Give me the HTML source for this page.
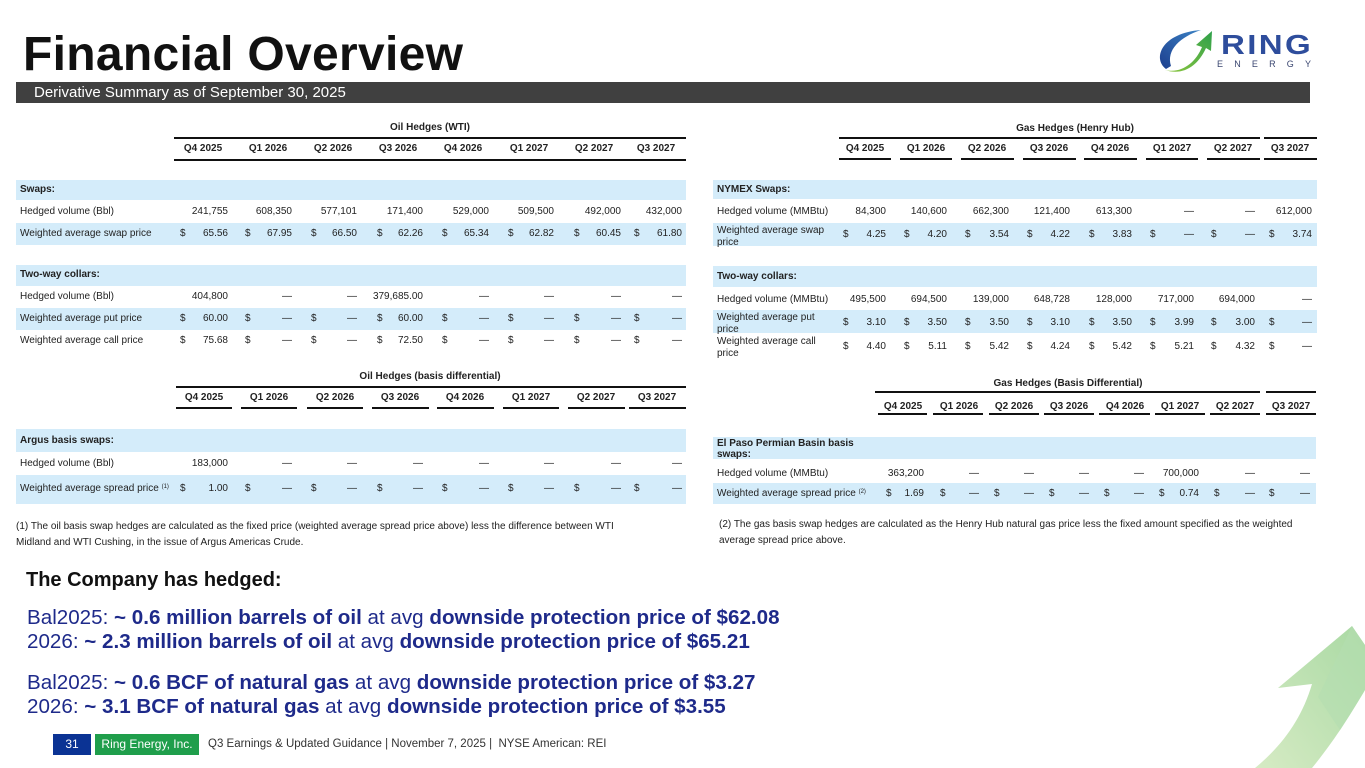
<!DOCTYPE html>
<html><head><meta charset="utf-8">
<style>
*{margin:0;padding:0;box-sizing:border-box}
html,body{width:1365px;height:768px;overflow:hidden;background:#fff}
body{position:relative;font-family:"Liberation Sans",Arial,sans-serif;color:#222}
.abs{position:absolute}
.band{position:absolute;background:#d4ecfa}
.ln{position:absolute;background:#111}
.r{position:absolute;left:0;width:1365px;height:12px;line-height:12px;font-size:10px;color:#222;white-space:nowrap}
.r>*{position:absolute;top:0;font-style:normal}
.lo{left:20px}.lg{left:717px}
.bo{font-weight:bold}
.ttl{position:absolute;font-size:10px;font-weight:bold;line-height:12px;text-align:center;width:300px;white-space:nowrap}
.h>*{width:60px;text-align:center;font-weight:bold}
.a0{left:180px}.a1{left:245px}.a2{left:311px}.a3{left:377px}.a4{left:442px}.a5{left:508px}.a6{left:574px}.a7{left:634px}
.b0{right:1137px}.b1{right:1073px}.b2{right:1008px}.b3{right:942px}.b4{right:876px}.b5{right:811px}.b6{right:744px}.b7{right:683px}
.c0{left:843px}.c1{left:904px}.c2{left:965px}.c3{left:1027px}.c4{left:1089px}.c5{left:1150px}.c6{left:1211px}.c7{left:1269px}
.e0{right:479px}.e1{right:418px}.e2{right:356px}.e3{right:295px}.e4{right:233px}.e5{right:171px}.e6{right:110px}.e7{right:53px}
.f0{left:886px}.f1{left:940px}.f2{left:994px}.f3{left:1049px}.f4{left:1104px}.f5{left:1159px}.f6{left:1214px}.f7{left:1269px}
.g0{right:441px}.g1{right:386px}.g2{right:331px}.g3{right:276px}.g4{right:221px}.g5{right:166px}.g6{right:110px}.g7{right:55px}
.lbl2{position:absolute;font-size:10px;line-height:12px;color:#222}
sup{font-size:6px;vertical-align:top;position:relative;top:-2px}
.fn{position:absolute;font-size:10px;line-height:16px;color:#222;white-space:nowrap}
.big{position:absolute;left:27px;font-size:20.6px;line-height:24px;color:#1e2a8a;white-space:nowrap}
.big b{font-weight:bold}
</style></head><body>

<!-- Title -->
<div class="abs" style="left:23px;top:31px;font-size:48px;line-height:48px;font-weight:bold;color:#111;white-space:nowrap;letter-spacing:0.3px">Financial Overview</div>
<div class="abs" style="left:16px;top:82px;width:1294px;height:21px;background:#404040;color:#fff;font-size:15px;line-height:21px;padding-left:18px;white-space:nowrap">Derivative Summary as of September 30, 2025</div>

<!-- Logo -->
<svg class="abs" style="left:1150px;top:24px" width="70" height="52" viewBox="1150 24 70 52">
<defs>
<linearGradient id="gb" x1="0" y1="1" x2="1" y2="0"><stop offset="0" stop-color="#1d3f8f"/><stop offset="1" stop-color="#3b82c4"/></linearGradient>
<linearGradient id="gg" x1="0" y1="1" x2="1" y2="0"><stop offset="0" stop-color="#8cc63f"/><stop offset="1" stop-color="#2fa04a"/></linearGradient>
</defs>
<path d="M1166,69 C1152,58 1162,33 1201,30 C1180,37 1166,50 1171,66 Z" fill="url(#gb)"/>
<path d="M1165,70 C1182,74 1196,62 1202,47 L1196,45 L1212,31 L1211,51 L1206,48 C1198,66 1183,76 1165,70 Z" fill="url(#gg)"/>
</svg>
<div class="abs" style="left:1221px;top:28px;font-size:28px;line-height:34px;font-weight:bold;color:#2e4d9c;letter-spacing:2px;transform:scaleX(1.18);transform-origin:left;white-space:nowrap">RING</div>
<div class="abs" style="left:1217px;top:59px;font-size:9px;line-height:10px;color:#3a4670;letter-spacing:11.2px;white-space:nowrap">ENERGY</div>

<!-- ================= OIL WTI ================= -->
<div class="ttl" style="left:280px;top:122px">Oil Hedges (WTI)</div>
<div class="ln" style="left:174px;top:137px;width:512px;height:2px"></div>
<div class="r h" style="top:143px"><i style="left:173px">Q4 2025</i><i style="left:238px">Q1 2026</i><i style="left:303px">Q2 2026</i><i style="left:368px">Q3 2026</i><i style="left:433px">Q4 2026</i><i style="left:499px">Q1 2027</i><i style="left:564px">Q2 2027</i><i style="left:626px">Q3 2027</i></div>
<div class="ln" style="left:174px;top:159px;width:512px;height:2px"></div>

<div class="band" style="left:16px;top:180px;width:670px;height:20px"></div>
<div class="band" style="left:16px;top:223px;width:670px;height:22px"></div>
<div class="band" style="left:16px;top:265px;width:670px;height:21px"></div>
<div class="band" style="left:16px;top:308px;width:670px;height:22px"></div>

<div class="r" style="top:184px"><b class="lo">Swaps:</b></div>
<div class="r" style="top:206px"><span class="lo">Hedged volume (Bbl)</span><i class="b0">241,755</i><i class="b1">608,350</i><i class="b2">577,101</i><i class="b3">171,400</i><i class="b4">529,000</i><i class="b5">509,500</i><i class="b6">492,000</i><i class="b7">432,000</i></div>
<div class="r" style="top:228px"><span class="lo">Weighted average swap price</span><i class="a0">$</i><i class="b0">65.56</i><i class="a1">$</i><i class="b1">67.95</i><i class="a2">$</i><i class="b2">66.50</i><i class="a3">$</i><i class="b3">62.26</i><i class="a4">$</i><i class="b4">65.34</i><i class="a5">$</i><i class="b5">62.82</i><i class="a6">$</i><i class="b6">60.45</i><i class="a7">$</i><i class="b7">61.80</i></div>
<div class="r" style="top:269px"><b class="lo">Two-way collars:</b></div>
<div class="r" style="top:291px"><span class="lo">Hedged volume (Bbl)</span><i class="b0">404,800</i><i class="b1">—</i><i class="b2">—</i><i class="b3">379,685.00</i><i class="b4">—</i><i class="b5">—</i><i class="b6">—</i><i class="b7">—</i></div>
<div class="r" style="top:313px"><span class="lo">Weighted average put price</span><i class="a0">$</i><i class="b0">60.00</i><i class="a1">$</i><i class="b1">—</i><i class="a2">$</i><i class="b2">—</i><i class="a3">$</i><i class="b3">60.00</i><i class="a4">$</i><i class="b4">—</i><i class="a5">$</i><i class="b5">—</i><i class="a6">$</i><i class="b6">—</i><i class="a7">$</i><i class="b7">—</i></div>
<div class="r" style="top:335px"><span class="lo">Weighted average call price</span><i class="a0">$</i><i class="b0">75.68</i><i class="a1">$</i><i class="b1">—</i><i class="a2">$</i><i class="b2">—</i><i class="a3">$</i><i class="b3">72.50</i><i class="a4">$</i><i class="b4">—</i><i class="a5">$</i><i class="b5">—</i><i class="a6">$</i><i class="b6">—</i><i class="a7">$</i><i class="b7">—</i></div>

<!-- ================= OIL BASIS ================= -->
<div class="ttl" style="left:280px;top:371px">Oil Hedges (basis differential)</div>
<div class="ln" style="left:176px;top:386px;width:510px;height:2px"></div>
<div class="r h" style="top:392px"><i style="left:174px">Q4 2025</i><i style="left:239px">Q1 2026</i><i style="left:305px">Q2 2026</i><i style="left:370px">Q3 2026</i><i style="left:435px">Q4 2026</i><i style="left:501px">Q1 2027</i><i style="left:566px">Q2 2027</i><i style="left:627px">Q3 2027</i></div>
<div class="ln" style="left:176px;top:407px;width:56px;height:2px"></div>
<div class="ln" style="left:241px;top:407px;width:56px;height:2px"></div>
<div class="ln" style="left:307px;top:407px;width:56px;height:2px"></div>
<div class="ln" style="left:372px;top:407px;width:57px;height:2px"></div>
<div class="ln" style="left:437px;top:407px;width:57px;height:2px"></div>
<div class="ln" style="left:503px;top:407px;width:56px;height:2px"></div>
<div class="ln" style="left:568px;top:407px;width:57px;height:2px"></div>
<div class="ln" style="left:629px;top:407px;width:57px;height:2px"></div>

<div class="band" style="left:16px;top:429px;width:670px;height:23px"></div>
<div class="band" style="left:16px;top:475px;width:670px;height:29px"></div>
<div class="r" style="top:435px"><b class="lo">Argus basis swaps:</b></div>
<div class="r" style="top:458px"><span class="lo">Hedged volume (Bbl)</span><i class="b0">183,000</i><i class="b1">—</i><i class="b2">—</i><i class="b3">—</i><i class="b4">—</i><i class="b5">—</i><i class="b6">—</i><i class="b7">—</i></div>
<div class="r" style="top:483px"><span class="lo">Weighted average spread price <sup>(1)</sup></span><i class="a0">$</i><i class="b0">1.00</i><i class="a1">$</i><i class="b1">—</i><i class="a2">$</i><i class="b2">—</i><i class="a3">$</i><i class="b3">—</i><i class="a4">$</i><i class="b4">—</i><i class="a5">$</i><i class="b5">—</i><i class="a6">$</i><i class="b6">—</i><i class="a7">$</i><i class="b7">—</i></div>

<div class="fn" style="left:16px;top:519px">(1) The oil basis swap hedges are calculated as the fixed price (weighted average spread price above) less the difference between WTI<br>Midland and WTI Cushing, in the issue of Argus Americas Crude.</div>

<!-- ================= GAS HENRY HUB ================= -->
<div class="ttl" style="left:925px;top:123px">Gas Hedges (Henry Hub)</div>
<div class="ln" style="left:839px;top:137px;width:421px;height:2px"></div>
<div class="ln" style="left:1264px;top:137px;width:53px;height:2px"></div>
<div class="r h" style="top:143px"><i style="left:835px">Q4 2025</i><i style="left:896px">Q1 2026</i><i style="left:957px">Q2 2026</i><i style="left:1019px">Q3 2026</i><i style="left:1080px">Q4 2026</i><i style="left:1142px">Q1 2027</i><i style="left:1203px">Q2 2027</i><i style="left:1260px">Q3 2027</i></div>
<div class="ln" style="left:839px;top:158px;width:52px;height:2px"></div>
<div class="ln" style="left:900px;top:158px;width:52px;height:2px"></div>
<div class="ln" style="left:961px;top:158px;width:53px;height:2px"></div>
<div class="ln" style="left:1023px;top:158px;width:53px;height:2px"></div>
<div class="ln" style="left:1084px;top:158px;width:53px;height:2px"></div>
<div class="ln" style="left:1146px;top:158px;width:52px;height:2px"></div>
<div class="ln" style="left:1207px;top:158px;width:53px;height:2px"></div>
<div class="ln" style="left:1264px;top:158px;width:53px;height:2px"></div>

<div class="band" style="left:713px;top:180px;width:604px;height:19px"></div>
<div class="band" style="left:713px;top:223px;width:604px;height:23px"></div>
<div class="band" style="left:713px;top:266px;width:604px;height:21px"></div>
<div class="band" style="left:713px;top:310px;width:604px;height:23px"></div>

<div class="r" style="top:184px"><b class="lg">NYMEX Swaps:</b></div>
<div class="r" style="top:206px"><span class="lg">Hedged volume (MMBtu)</span><i class="e0">84,300</i><i class="e1">140,600</i><i class="e2">662,300</i><i class="e3">121,400</i><i class="e4">613,300</i><i class="e5">—</i><i class="e6">—</i><i class="e7">612,000</i></div>
<div class="lbl2" style="left:717px;top:225px">Weighted average swap<br>price</div>
<div class="r" style="top:229px"><i class="c0">$</i><i class="e0">4.25</i><i class="c1">$</i><i class="e1">4.20</i><i class="c2">$</i><i class="e2">3.54</i><i class="c3">$</i><i class="e3">4.22</i><i class="c4">$</i><i class="e4">3.83</i><i class="c5">$</i><i class="e5">—</i><i class="c6">$</i><i class="e6">—</i><i class="c7">$</i><i class="e7">3.74</i></div>
<div class="r" style="top:271px"><b class="lg">Two-way collars:</b></div>
<div class="r" style="top:294px"><span class="lg">Hedged volume (MMBtu)</span><i class="e0">495,500</i><i class="e1">694,500</i><i class="e2">139,000</i><i class="e3">648,728</i><i class="e4">128,000</i><i class="e5">717,000</i><i class="e6">694,000</i><i class="e7">—</i></div>
<div class="lbl2" style="left:717px;top:312px">Weighted average put<br>price</div>
<div class="r" style="top:317px"><i class="c0">$</i><i class="e0">3.10</i><i class="c1">$</i><i class="e1">3.50</i><i class="c2">$</i><i class="e2">3.50</i><i class="c3">$</i><i class="e3">3.10</i><i class="c4">$</i><i class="e4">3.50</i><i class="c5">$</i><i class="e5">3.99</i><i class="c6">$</i><i class="e6">3.00</i><i class="c7">$</i><i class="e7">—</i></div>
<div class="lbl2" style="left:717px;top:336px">Weighted average call<br>price</div>
<div class="r" style="top:341px"><i class="c0">$</i><i class="e0">4.40</i><i class="c1">$</i><i class="e1">5.11</i><i class="c2">$</i><i class="e2">5.42</i><i class="c3">$</i><i class="e3">4.24</i><i class="c4">$</i><i class="e4">5.42</i><i class="c5">$</i><i class="e5">5.21</i><i class="c6">$</i><i class="e6">4.32</i><i class="c7">$</i><i class="e7">—</i></div>

<!-- ================= GAS BASIS ================= -->
<div class="ttl" style="left:918px;top:378px">Gas Hedges (Basis Differential)</div>
<div class="ln" style="left:875px;top:391px;width:385px;height:2px"></div>
<div class="ln" style="left:1266px;top:391px;width:50px;height:2px"></div>
<div class="r h" style="top:401px"><i style="left:873px">Q4 2025</i><i style="left:929px">Q1 2026</i><i style="left:984px">Q2 2026</i><i style="left:1039px">Q3 2026</i><i style="left:1095px">Q4 2026</i><i style="left:1150px">Q1 2027</i><i style="left:1205px">Q2 2027</i><i style="left:1261px">Q3 2027</i></div>
<div class="ln" style="left:878px;top:413px;width:49px;height:2px"></div>
<div class="ln" style="left:933px;top:413px;width:50px;height:2px"></div>
<div class="ln" style="left:989px;top:413px;width:50px;height:2px"></div>
<div class="ln" style="left:1044px;top:413px;width:50px;height:2px"></div>
<div class="ln" style="left:1099px;top:413px;width:51px;height:2px"></div>
<div class="ln" style="left:1155px;top:413px;width:50px;height:2px"></div>
<div class="ln" style="left:1210px;top:413px;width:50px;height:2px"></div>
<div class="ln" style="left:1266px;top:413px;width:50px;height:2px"></div>

<div class="band" style="left:713px;top:437px;width:603px;height:22px"></div>
<div class="band" style="left:713px;top:483px;width:603px;height:21px"></div>
<div class="lbl2" style="left:717px;top:438px;line-height:11px;font-weight:bold">El Paso Permian Basin basis<br>swaps:</div>
<div class="r" style="top:468px"><span class="lg">Hedged volume (MMBtu)</span><i class="g0">363,200</i><i class="g1">—</i><i class="g2">—</i><i class="g3">—</i><i class="g4">—</i><i class="g5">700,000</i><i class="g6">—</i><i class="g7">—</i></div>
<div class="r" style="top:488px"><span class="lg">Weighted average spread price <sup>(2)</sup></span><i class="f0">$</i><i class="g0">1.69</i><i class="f1">$</i><i class="g1">—</i><i class="f2">$</i><i class="g2">—</i><i class="f3">$</i><i class="g3">—</i><i class="f4">$</i><i class="g4">—</i><i class="f5">$</i><i class="g5">0.74</i><i class="f6">$</i><i class="g6">—</i><i class="f7">$</i><i class="g7">—</i></div>

<div class="fn" style="left:719px;top:517px">(2) The gas basis swap hedges are calculated as the Henry Hub natural gas price less the fixed amount specified as the weighted<br>average spread price above.</div>

<!-- ================= BOTTOM TEXT ================= -->
<div class="abs" style="left:26px;top:568px;font-size:20px;line-height:24px;font-weight:bold;color:#111;white-space:nowrap">The Company has hedged:</div>
<div class="big" style="top:606px">Bal2025: <b>~ 0.6 million barrels of oil</b> at avg <b>downside protection price of $62.08</b></div>
<div class="big" style="top:630px">2026: <b>~ 2.3 million barrels of oil</b> at avg <b>downside protection price of $65.21</b></div>
<div class="big" style="top:671px">Bal2025: <b>~ 0.6 BCF of natural gas</b> at avg <b>downside protection price of $3.27</b></div>
<div class="big" style="top:695px">2026: <b>~ 3.1 BCF of natural gas</b> at avg <b>downside protection price of $3.55</b></div>

<!-- Arrow bottom right -->
<svg class="abs" style="left:1230px;top:610px" width="135" height="158" viewBox="1230 610 135 158">
<defs>
<linearGradient id="ag" x1="0" y1="1" x2="1" y2="0"><stop offset="0" stop-color="#d6ebc4"/><stop offset="1" stop-color="#a9d9a3"/></linearGradient>
</defs>
<path d="M1352,626 L1278,688 L1312,684 C1302,718 1283,745 1255,768 L1312,768 C1335,740 1352,712 1365,690 L1365,645 Z" fill="url(#ag)"/>
<path d="M1352,626 L1365,645 L1365,690 C1356,705 1348,718 1340,730 L1318,697 Z" fill="#b4ddb0" opacity="0.6"/>
</svg>

<!-- Footer -->
<div class="abs" style="left:53px;top:734px;width:38px;height:21px;background:#0b3394;color:#fff;font-size:12px;line-height:21px;text-align:center">31</div>
<div class="abs" style="left:95px;top:734px;width:104px;height:21px;background:#1f9e4b;color:#fff;font-size:12px;line-height:21px;text-align:center;white-space:nowrap">Ring Energy, Inc.</div>
<div class="abs" style="left:208px;top:734px;font-size:11.5px;line-height:21px;color:#333;white-space:nowrap">Q3 Earnings &amp; Updated Guidance | November 7, 2025 | &nbsp;NYSE American: REI</div>

</body></html>
